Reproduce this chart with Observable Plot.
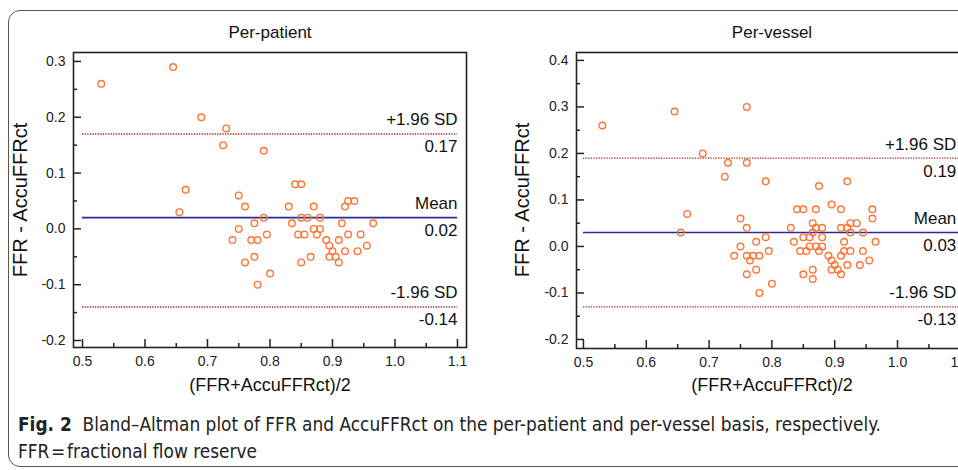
<!DOCTYPE html>
<html><head><meta charset="utf-8">
<script src="https://cdn.jsdelivr.net/npm/d3@7"></script>
<script src="https://cdn.jsdelivr.net/npm/@observablehq/plot@0.6"></script>
<style>
html,body{margin:0;padding:0;background:#fff}
body{width:958px;height:470px;overflow:hidden;position:relative;font-family:"Liberation Sans",Arial,sans-serif;color:#111}
#border{position:absolute;left:8px;top:10px;width:1000px;height:457px;border:1.5px solid #555;border-radius:12px;box-sizing:border-box}
.panel{position:absolute;top:0}
.title{position:absolute;top:23px;width:300px;margin-left:-150px;text-align:center;font-size:17px}
.xlab{position:absolute;top:375px;width:300px;margin-left:-150px;text-align:center;font-size:18px}
.ylab{position:absolute;top:200px;width:240px;margin-left:-120px;margin-top:-12px;text-align:center;font-size:20px;transform:rotate(-90deg);line-height:24px}
#caption{position:absolute;left:18px;top:411px;font-family:"Liberation Sans Narrow","DejaVu Sans Condensed","Roboto Condensed",sans-serif;font-stretch:condensed;font-size:18.9px;line-height:27px;color:#222;white-space:nowrap}
#caption b{font-weight:bold}
</style></head>
<body>
<div id="border"></div>
<div id="root"></div>
<div id="caption"><b>Fig. 2</b>&nbsp; Bland–Altman plot of FFR and AccuFFRct on the per-patient and per-vessel basis, respectively.<br>FFR&#8202;=&#8202;fractional flow reserve</div>
<script>
// ---------- data ----------
const titles = ["Per-patient", "Per-vessel"];
const xLabel = "(FFR+AccuFFRct)/2";
const yLabel = "FFR - AccuFFRct";
const lineLabels = ["+1.96 SD", "Mean", "-1.96 SD"];

const patientX = [0.53,0.645,0.69,0.73,0.725,0.79,0.665,0.84,0.85,0.75,0.76,0.83,0.655,0.87,0.92,0.925,0.935,0.79,0.85,0.86,0.88,0.75,0.775,0.835,0.915,0.965,0.87,0.88,0.74,0.77,0.78,0.795,0.845,0.855,0.875,0.89,0.91,0.925,0.945,0.895,0.90,0.895,0.905,0.91,0.92,0.94,0.955,0.775,0.76,0.85,0.865,0.80,0.78];
const patientY = [0.26,0.29,0.20,0.18,0.15,0.14,0.07,0.08,0.08,0.06,0.04,0.04,0.03,0.04,0.04,0.05,0.05,0.02,0.02,0.02,0.02,0.0,0.01,0.01,0.01,0.01,0.0,0.0,-0.02,-0.02,-0.02,-0.01,-0.01,-0.01,-0.01,-0.02,-0.02,-0.01,-0.01,-0.03,-0.04,-0.05,-0.05,-0.06,-0.04,-0.04,-0.03,-0.05,-0.06,-0.06,-0.05,-0.08,-0.10];
const patientLines = [0.17, 0.02, -0.14];

const vesselX = [0.53,0.645,0.76,0.69,0.73,0.76,0.725,0.79,0.665,0.75,0.655,0.76,0.775,0.75,0.74,0.76,0.77,0.78,0.765,0.76,0.775,0.78,0.79,0.795,0.80,0.875,0.92,0.895,0.84,0.85,0.87,0.91,0.96,0.96,0.865,0.925,0.935,0.83,0.87,0.88,0.91,0.92,0.865,0.925,0.945,0.835,0.85,0.86,0.88,0.915,0.965,0.86,0.87,0.88,0.845,0.855,0.875,0.915,0.925,0.945,0.89,0.91,0.895,0.90,0.895,0.905,0.91,0.92,0.94,0.955,0.865,0.85,0.865];
const vesselY = [0.26,0.29,0.30,0.20,0.18,0.18,0.15,0.14,0.07,0.06,0.03,0.04,0.01,0.0,-0.02,-0.02,-0.02,-0.02,-0.03,-0.06,-0.05,-0.10,0.02,-0.01,-0.08,0.13,0.14,0.09,0.08,0.08,0.08,0.08,0.08,0.06,0.05,0.05,0.05,0.04,0.04,0.04,0.04,0.04,0.03,0.03,0.03,0.01,0.02,0.02,0.02,0.01,0.01,0.0,0.0,0.0,-0.01,-0.01,-0.01,-0.01,-0.01,-0.01,-0.02,-0.02,-0.03,-0.04,-0.05,-0.05,-0.06,-0.04,-0.04,-0.03,-0.05,-0.06,-0.07];
const vesselLines = [0.19, 0.03, -0.13];

const xTicks = [0.5,0.6,0.7,0.8,0.9,1.0,1.1];
const xMinor = [0.55,0.65,0.75,0.85,0.95,1.05];
const patientYTicks = [-0.2,-0.1,0.0,0.1,0.2,0.3];
const patientYMinor = [-0.15,-0.05,0.05,0.15,0.25];
const vesselYTicks = [-0.2,-0.1,0.0,0.1,0.2,0.3,0.4];
const vesselYMinor = [-0.15,-0.05,0.05,0.15,0.25,0.35];

// ---------- drawing ----------
const FONT = '"Liberation Sans", Arial, sans-serif';
function panel({xs, ys, lines, xDomain, yDomain, yTicks, yMinor, width, height, mL, mR, mT, mB, labelDx}) {
  const pts = xs.map((x, i) => ({x, y: ys[i]}));
  const ref = lines.map((v, i) => ({v, name: lineLabels[i], mean: i === 1}));
  const plotH = height - mT - mB, plotW = width - mL - mR;
  const ink = "#222";
  return Plot.plot({
    width, height, marginLeft: mL, marginRight: mR, marginTop: mT, marginBottom: mB,
    x: {domain: xDomain},
    y: {domain: yDomain},
    style: {fontFamily: FONT, fontSize: "14px", color: ink, background: "transparent", overflow: "visible"},
    marks: [
      Plot.ruleY(ref.filter(d => !d.mean), {y: "v", x1: 0.5, x2: 1.1, stroke: "#9c2626", strokeWidth: 1.4, strokeDasharray: "1.3,1.3"}),
      Plot.ruleY(ref.filter(d => d.mean), {y: "v", x1: 0.5, x2: 1.1, stroke: "#2b2b98", strokeWidth: 1.7}),
      Plot.dot(pts, {x: "x", y: "y", r: 3.3, stroke: "#ff7433", strokeWidth: 1.4, fill: "none"}),
      Plot.text(ref, {x: 1.1, y: "v", text: "name", textAnchor: "end", dx: labelDx, dy: -14, fontSize: 17, fill: "#111"}),
      Plot.text(ref, {x: 1.1, y: "v", text: d => d.v.toFixed(2), textAnchor: "end", dx: labelDx, dy: 13, fontSize: 17, fill: "#111"}),
      Plot.tickX(xTicks, {x: d => d, insetTop: plotH - 8, stroke: ink, strokeWidth: 1.5}),
      Plot.tickX(xMinor, {x: d => d, insetTop: plotH - 4, stroke: ink, strokeWidth: 1.5}),
      Plot.tickY(yTicks, {y: d => d, insetRight: plotW - 8, stroke: ink, strokeWidth: 1.5}),
      Plot.tickY(yMinor, {y: d => d, insetRight: plotW - 4, stroke: ink, strokeWidth: 1.5}),
      Plot.frame({stroke: ink, strokeWidth: 1.6}),
      Plot.axisX(xTicks, {tickSize: 0, tickPadding: 9, tickFormat: d => d.toFixed(1), label: null, fontSize: 14}),
      Plot.axisY(yTicks, {tickSize: 0, tickPadding: 8, tickFormat: d => d.toFixed(1), label: null, fontSize: 14})
    ]
  });
}

const root = document.getElementById("root");
function place(el, left) { el.classList.add("panel"); el.style.left = left + "px"; root.appendChild(el); }

const p1 = panel({xs: patientX, ys: patientY, lines: patientLines,
  xDomain: [0.4856, 1.1144], yDomain: [-0.2125, 0.316], yTicks: patientYTicks, yMinor: patientYMinor,
  width: 490, height: 400, mL: 73, mR: 24, mT: 52, mB: 53, labelDx: 0});
place(p1, 0);
const p2 = panel({xs: vesselX, ys: vesselY, lines: vesselLines,
  xDomain: [0.4889, 1.1146], yDomain: [-0.2194, 0.417], yTicks: vesselYTicks, yMinor: vesselYMinor,
  width: 490, height: 400, mL: 86, mR: 11, mT: 52, mB: 52, labelDx: -4});
place(p2, 490);

function addText(cls, text, x, y) {
  const d = document.createElement("div");
  d.className = cls; d.textContent = text; d.style.left = x + "px";
  if (y != null) d.style.top = y + "px";
  root.appendChild(d);
}
addText("title", titles[0], 270);
addText("title", titles[1], 772);
addText("xlab", xLabel, 270);
addText("xlab", xLabel, 772);
addText("ylab", yLabel, 20);
addText("ylab", yLabel, 522);
</script>
</body></html>
